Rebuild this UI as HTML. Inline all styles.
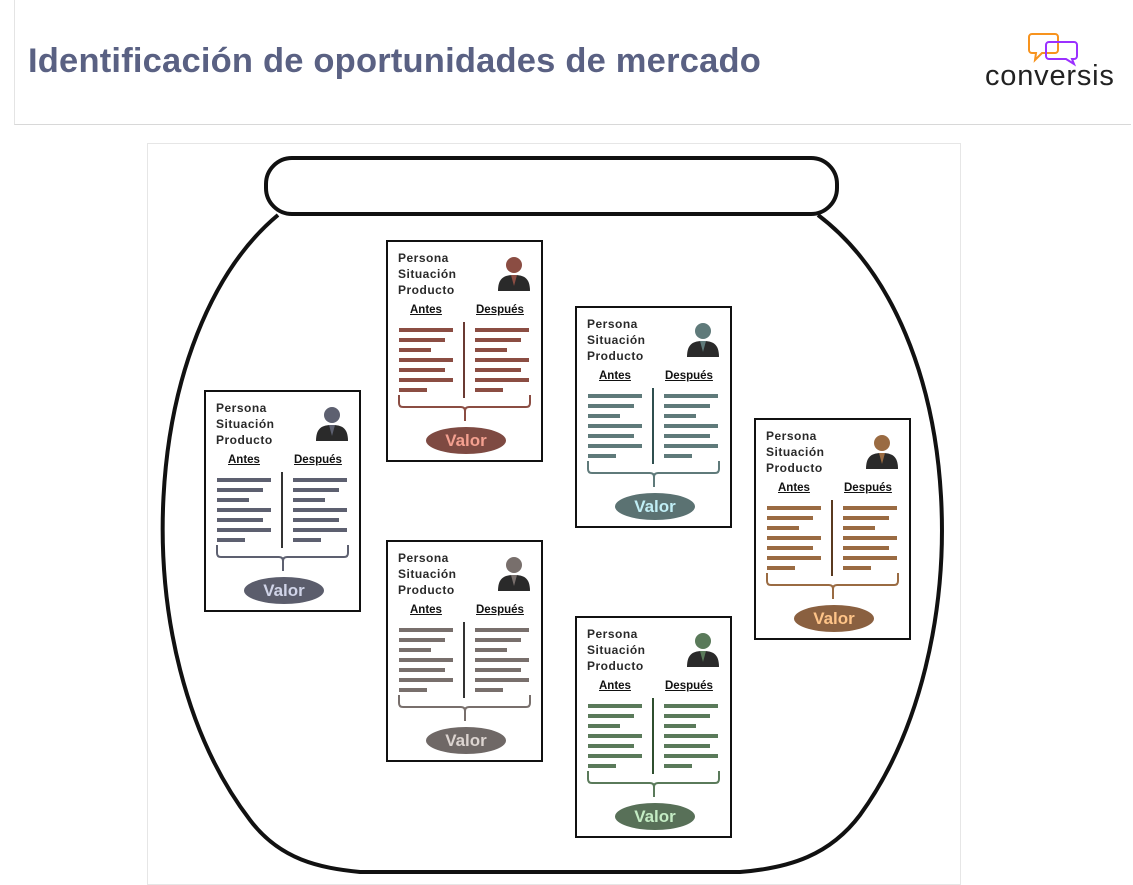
<!DOCTYPE html>
<html><head><meta charset="utf-8"><style>
body{margin:0;width:1133px;height:878px;background:#fff;position:relative;overflow:hidden;font-family:"Liberation Sans",sans-serif}
.hdr{position:absolute;left:14px;top:0;width:1116px;height:124px;border-left:1px solid #e4e4e4;border-bottom:1px solid #d8d8d8}
.title{position:absolute;left:28px;top:42px;font-size:34.5px;font-weight:bold;color:#5a6183;letter-spacing:0.2px}
.frame{position:absolute;left:147px;top:143px;width:812px;height:740px;border:1px solid #e6e6e6}
.card{position:absolute;width:153px;height:218px;border:2px solid #111;background:#fff}
.lbl{position:absolute;left:10px;top:8px;font-size:12px;font-weight:bold;line-height:16px;color:#2a2a2a;letter-spacing:0.5px}
.h{position:absolute;top:62px;font-size:11.5px;font-weight:bold;text-decoration:underline;color:#111}
.bar{position:absolute;height:4px}
.div{position:absolute;left:75px;top:80px;width:2px;height:76px}
.val{position:absolute;left:38px;top:185px;width:80px;height:27px;border-radius:50%;font-size:17px;font-weight:bold;text-align:center;line-height:27px}
.logo{position:absolute;left:985px;top:60px;font-size:29px;color:#222;letter-spacing:0.8px}
</style></head><body>
<div class="hdr"></div>
<div class="title">Identificación de oportunidades de mercado</div>
<svg style="position:absolute;left:1027px;top:32px" width="60" height="36">
<path d="M5 2h23a3 3 0 0 1 3 3v13a3 3 0 0 1-3 3H15l-7 7 1-7H5a3 3 0 0 1-3-3V5a3 3 0 0 1 3-3z" fill="none" stroke="#f7931e" stroke-width="2"/>
<path d="M22 10h25a3 3 0 0 1 3 3v11a3 3 0 0 1-3 3h-2l2 5-8-5H22a3 3 0 0 1-3-3V13a3 3 0 0 1 3-3z" fill="none" stroke="#9b30ff" stroke-width="2"/>
</svg>
<div class="logo">conversis</div>
<div class="frame"></div>
<svg style="position:absolute;left:0;top:0" width="1133" height="878">
<rect x="266" y="158" width="571" height="56" rx="26" fill="none" stroke="#111" stroke-width="4"/>
<path d="M278 215 C 140 330, 120 650, 250 820 C 280 860, 320 868, 360 872 L 740 872 C 790 868, 830 855, 860 815 C 980 650, 970 330, 818 215" fill="none" stroke="#111" stroke-width="4"/>
</svg>
<div id="cards"></div>
<script>
var cards=[
[386,240,'#8b4d43','#7e4a42','#f4a090','#6a3a33'],
[575,306,'#5f7a7a','#5b7272','#c0eef5','#2f4f4f'],
[204,390,'#5d6070','#5b5d6c','#d0d4e8','#333'],
[754,418,'#9a6b42','#8a6040','#ffc488','#5a3a20'],
[386,540,'#786f6c','#6f6866','#dcd4d0','#333'],
[575,616,'#5a7a5a','#587058','#c4ecc4','#2f4f2f']];
var L=[54,46,32,54,46,54,28],h='';
cards.forEach(function(c){
h+='<div class="card" style="left:'+c[0]+'px;top:'+c[1]+'px">';
h+='<div class="lbl">Persona<br>Situación<br>Producto</div>';
h+='<svg style="position:absolute;left:108px;top:12px" width="36" height="38"><circle cx="18" cy="11" r="8" fill="'+c[2]+'"/><path d="M2 37 C2 24 8 21 18 21 C28 21 34 24 34 37Z" fill="#2a2a2a"/><path d="M15 21 L18 32 L21 21Z" fill="'+c[2]+'"/></svg>';
h+='<div class="h" style="left:22px">Antes</div><div class="h" style="left:88px">Después</div>';
for(var i=0;i<7;i++){h+='<div class="bar" style="left:11px;top:'+(86+i*10)+'px;width:'+L[i]+'px;background:'+c[2]+'"></div>';
h+='<div class="bar" style="left:87px;top:'+(86+i*10)+'px;width:'+L[i]+'px;background:'+c[2]+'"></div>';}
h+='<div class="div" style="background:'+c[5]+'"></div>';
h+='<svg style="position:absolute;left:10px;top:153px" width="135" height="30"><path d="M1 0 V8 Q1 12 5 12 H63 Q67 12 67 16 V26 M67 16 Q67 12 71 12 H128 Q132 12 132 8 V0" fill="none" stroke="'+c[2]+'" stroke-width="2"/></svg>';
h+='<div class="val" style="background:'+c[3]+';color:'+c[4]+'">Valor</div></div>';
});
document.getElementById('cards').innerHTML=h;
</script>
</body></html>
